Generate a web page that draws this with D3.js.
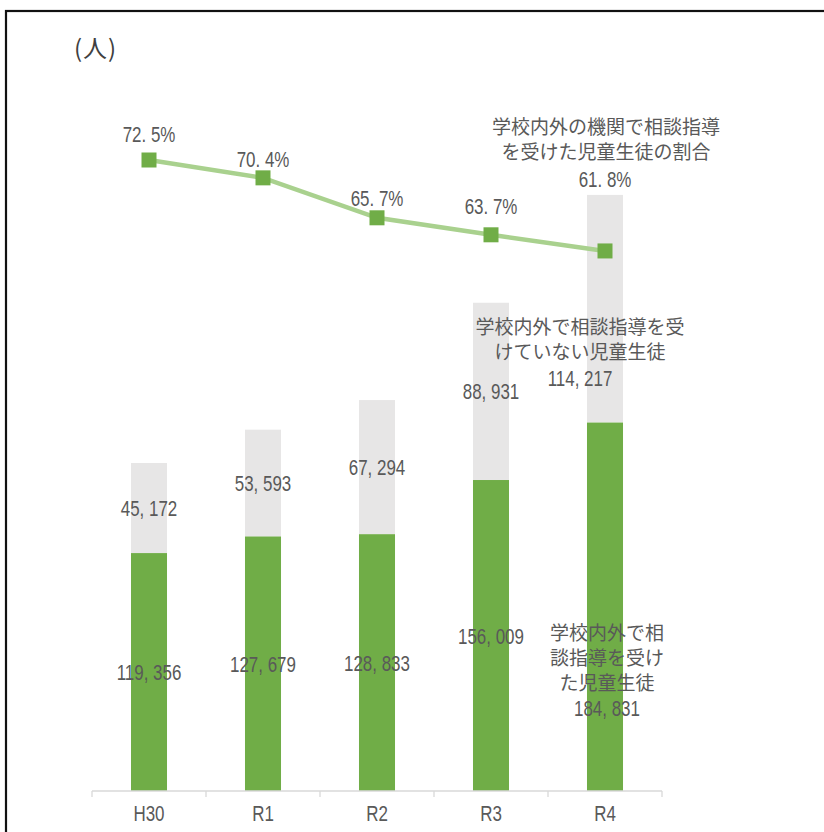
<!DOCTYPE html>
<html><head><meta charset="utf-8">
<script src="https://cdn.jsdelivr.net/npm/d3@7"></script>
<style>
html,body{margin:0;padding:0;background:#fff;}
svg{display:block;}
</style></head>
<body>
<svg id="chart" width="824" height="832"></svg>
<script>
// ---- data ----
const categories = ["H30", "R1", "R2", "R3", "R4"];
const receivedCounts = [119356, 127679, 128833, 156009, 184831];   // 相談指導を受けた
const notReceivedCounts = [45172, 53593, 67294, 88931, 114217];     // 受けていない
const receivedRates = [72.5, 70.4, 65.7, 63.7, 61.8];               // 割合 (%)
const unitLabel = "(人)";
const lineSeriesName = ["学校内外の機関で相談指導", "を受けた児童生徒の割合"];
const notReceivedName = ["学校内外で相談指導を受", "けていない児童生徒"];
const receivedName = ["学校内外で相", "談指導を受け", "た児童生徒"];

// ---- layout ----
const W = 824, H = 832;
const numFont = "'Liberation Sans',Arial,sans-serif";
const jpFont = "'Noto Sans CJK JP','Noto Sans',sans-serif";
const textColor = "#595959";
const green = "#70ad47", lightGreen = "#a9d18e", grey = "#e7e6e6";
const numSize = 22, jpSize = 19, narrow = 0.77;

const svg = d3.select("#chart");

// frame
svg.append("rect").attr("x", 6).attr("y", 11).attr("width", W + 20).attr("height", H + 20)
  .attr("fill", "none").attr("stroke", "#111").attr("stroke-width", 2.2);

const x = d3.scaleBand().domain(categories).range([92, 662]).paddingInner(0.684).paddingOuter(0.342);
const y = d3.scaleLinear().domain([0, 300000]).range([791, 193]);
const y2 = d3.scaleLinear().domain([50, 80]).range([351.25, 96.25]);

const fmt = d3.format(",");
const fmtSp = v => fmt(v).replace(",", ", ");

// narrow number text helper
function numText(px, py, txt) {
  return svg.append("text")
    .attr("transform", `translate(${px},${py}) scale(${narrow},1)`)
    .attr("text-anchor", "middle").attr("font-family", numFont).attr("font-size", numSize)
    .attr("fill", textColor).text(txt);
}
function jpText(px, py, txt) {
  return svg.append("text").attr("x", px).attr("y", py).attr("text-anchor", "middle")
    .attr("font-family", jpFont).attr("font-size", jpSize).attr("fill", textColor).text(txt);
}

// bars
const g = svg.append("g");
categories.forEach((c, i) => {
  const r = receivedCounts[i], n = notReceivedCounts[i];
  g.append("rect").attr("x", x(c)).attr("width", x.bandwidth())
    .attr("y", y(r + n)).attr("height", y(r) - y(r + n)).attr("fill", grey);
  g.append("rect").attr("x", x(c)).attr("width", x.bandwidth())
    .attr("y", y(r)).attr("height", y(0) - y(r)).attr("fill", green);
});

// axis
const x0 = x.range()[0], x1 = x.range()[1];
svg.append("line").attr("x1", x0).attr("x2", x1).attr("y1", y(0)).attr("y2", y(0))
  .attr("stroke", "#d9d9d9").attr("stroke-width", 1.3);
const bounds = categories.map(c => x(c) - x.step() * x.paddingInner() / 2).concat([x1]);
bounds[0] = x0;
bounds.forEach(b => svg.append("line").attr("x1", b).attr("x2", b).attr("y1", y(0)).attr("y2", y(0) + 6)
  .attr("stroke", "#d9d9d9").attr("stroke-width", 1.3));
const axis = d3.axisBottom(x).tickSize(0).tickPadding(0);
const ag = svg.append("g").attr("transform", `translate(0,${y(0)})`).call(axis);
ag.select(".domain").remove();
ag.selectAll(".tick text")
  .attr("y", null).attr("dy", null)
  .attr("transform", `translate(0,30) scale(${narrow},1)`)
  .attr("font-family", numFont).attr("font-size", numSize).attr("fill", textColor);

// bar value labels
const last = categories.length - 1;
categories.forEach((c, i) => {
  if (i === last) return;
  const r = receivedCounts[i], n = notReceivedCounts[i];
  const cx = x(c) + x.bandwidth() / 2;
  numText(cx, (y(r + n) + y(r)) / 2 + 8, fmtSp(n));
  numText(cx, (y(r) + y(0)) / 2 + 8, fmtSp(r));
});

// R4 annotated labels
const lc = categories[last];
const lcx = x(lc) + x.bandwidth() / 2;
const nrx = lcx - 25;
notReceivedName.forEach((t, k) => jpText(nrx, 334 + k * 25, t));
numText(nrx, 386, fmtSp(notReceivedCounts[last]));
receivedName.forEach((t, k) => jpText(lcx + 2, 640 + k * 25, t));
numText(lcx + 2, 716, fmtSp(receivedCounts[last]));

// line
const line = d3.line().x((d, i) => x(categories[i]) + x.bandwidth() / 2).y(d => y2(d));
svg.append("path").datum(receivedRates).attr("d", line).attr("fill", "none")
  .attr("stroke", lightGreen).attr("stroke-width", 4.5);
const ms = 15;
receivedRates.forEach((v, i) => {
  const cx = x(categories[i]) + x.bandwidth() / 2;
  svg.append("rect").attr("x", cx - ms / 2).attr("y", y2(v) - ms / 2).attr("width", ms).attr("height", ms)
    .attr("fill", green);
});
// rate labels (vertical offset of each label above its marker)
const rateLabelDy = [-18, -11, -12, -21, -64];
receivedRates.forEach((v, i) => {
  const cx = x(categories[i]) + x.bandwidth() / 2;
  numText(cx, y2(v) + rateLabelDy[i], v.toFixed(1).replace(".", ". ") + "%");
});
// line series name
lineSeriesName.forEach((t, k) => jpText(606, 134 + k * 25, t));

// unit label
svg.append("text").attr("x", 74).attr("y", 57).attr("font-family", jpFont).attr("font-size", 24)
  .attr("letter-spacing", 1).attr("fill", "#404040").text(unitLabel);
</script>
</body></html>
